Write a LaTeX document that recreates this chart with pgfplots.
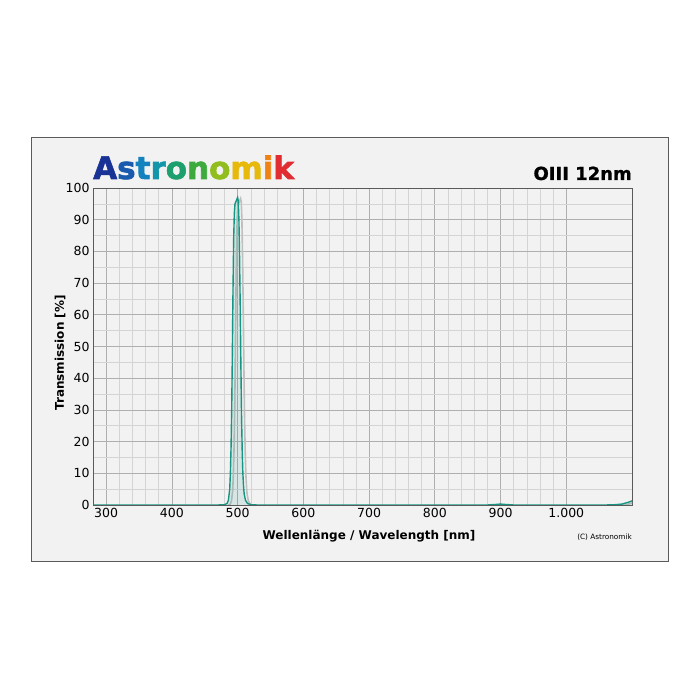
\documentclass[border=0pt]{standalone}
\usepackage{pgfplots}
\pgfplotsset{compat=1.18}
\usepackage{pgfplotstable}
\usepackage{fontspec}
\setmainfont{DejaVu Sans}
\newfontfamily\logofont[FakeBold=2]{DejaVu Sans Bold}
\newfontfamily\titlefont[FakeBold=1]{DejaVu Sans Bold}
\definecolor{curve}{RGB}{22,150,130}
\definecolor{boxbg}{RGB}{242,242,242}
\definecolor{majgrid}{RGB}{175,175,175}
\definecolor{mingrid}{RGB}{212,212,212}
\definecolor{frame}{RGB}{90,90,90}
\definecolor{lA}{RGB}{25,50,150}
\definecolor{lB}{RGB}{25,90,175}
\definecolor{lC}{RGB}{20,130,190}
\definecolor{lD}{RGB}{20,150,170}
\definecolor{lE}{RGB}{30,160,110}
\definecolor{lF}{RGB}{60,170,60}
\definecolor{lG}{RGB}{145,190,30}
\definecolor{lH}{RGB}{230,185,10}
\definecolor{lI}{RGB}{240,130,20}
\definecolor{lJ}{RGB}{225,45,50}
\pgfplotstableread{
nm T
280 0
400 0
470 0
480 0.1
484 0.5
486 1.5
488 5
489 10
490 18
491 30
492 48
493 68
494 84
495 92
496 95
497 95.5
498 96
499 96.5
500 97
501 96
502 90
503 78
504 62
505 44
506 28
507 17
508 10
509 6
510 3.5
512 1.5
515 0.5
520 0.1
530 0
700 0
880 0
895 0.2
900 0.3
905 0.2
920 0
1000 0
1060 0
1075 0.1
1085 0.3
1090 0.6
1095 0.9
1100 1.3
}\datatable
\begin{document}
\begin{tikzpicture}[x=1pt,y=1pt]
\path[use as bounding box, fill=white] (0,0) rectangle (700,700);
\draw[fill=boxbg, draw=frame, line width=0.8pt] (31,139) rectangle (668,563);
\begin{axis}[at={(93pt,195pt)}, anchor=south west, scale only axis,
  width=539pt, height=317pt,
  xmin=280, xmax=1100, ymin=0, ymax=100,
  xtick={300,400,...,1000}, xticklabels={300,400,500,600,700,800,900,1.000},
  minor x tick num=4,
  ytick={0,10,...,100}, minor y tick num=1,
  grid=both,
  major grid style={majgrid, line width=0.7pt},
  minor grid style={mingrid, line width=0.5pt},
  major tick length=0pt, minor tick length=0pt,
  axis line style={draw=frame, line width=0.9pt},
  axis background/.style={fill=boxbg},
  tick label style={font=\fontsize{12.5}{14}\selectfont},
  /pgf/number format/assume math mode=true,
  clip=true,
]
\addplot[draw=black!25, line width=1.6pt, shift={(3pt,-1pt)}] table[x=nm,y=T] {\datatable};
\addplot[fill=curve, fill opacity=0.12, draw=none] table[x=nm,y=T] {\datatable} \closedcycle;
\addplot[curve, line width=1.4pt] table[x=nm,y=T] {\datatable};
\end{axis}
\node[font=\bfseries\fontsize{12}{14}\selectfont] at (369,164) {Wellenlänge / Wavelength [nm]};
\node[font=\bfseries\fontsize{12}{14}\selectfont, rotate=90] at (60,347) {Transmission [\%]};
\node[anchor=base east, inner sep=0, font=\fontsize{7.3}{9}\selectfont] at (632,160) {(C) Astronomik};
\node[anchor=base east, inner sep=0, font=\titlefont\fontsize{18}{20}\selectfont] at (632,520) {OIII 12nm};
\node[anchor=base west, inner sep=0, font=\logofont\fontsize{31}{36}\selectfont] at (93,521)
 {\textcolor{lA}{A}\textcolor{lB}{s}\textcolor{lC}{t}\textcolor{lD}{r}\textcolor{lE}{o}\textcolor{lF}{n}\textcolor{lG}{o}\textcolor{lH}{m}\textcolor{lI}{i}\textcolor{lJ}{k}};
\end{tikzpicture}
\end{document}
